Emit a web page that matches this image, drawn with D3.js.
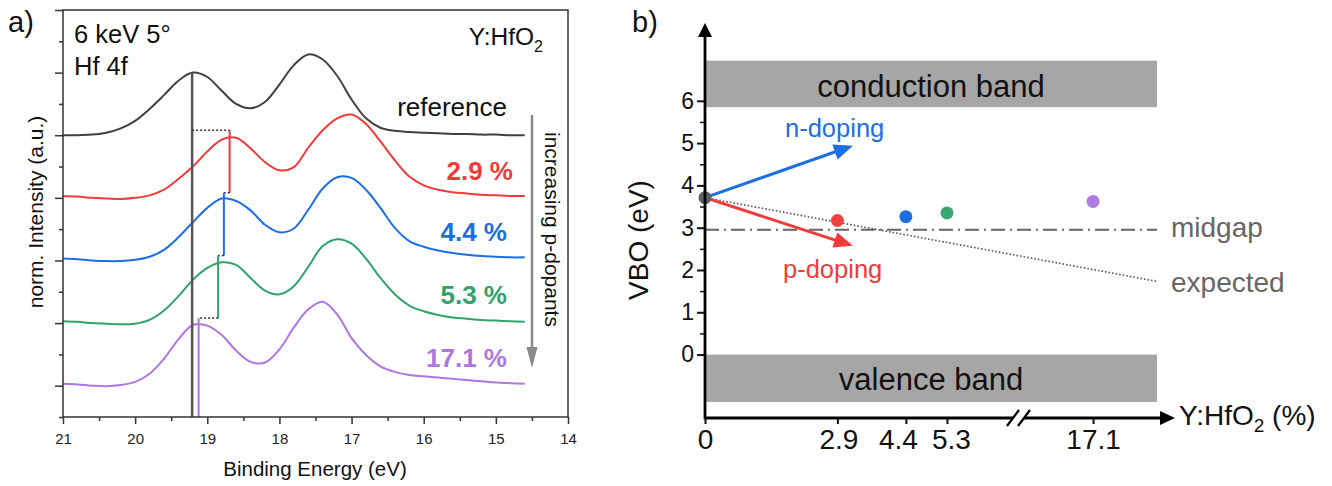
<!DOCTYPE html>
<html><head><meta charset="utf-8">
<script src="https://cdn.jsdelivr.net/npm/d3@7"></script>
<style>body{margin:0;background:#fff} svg{display:block}</style>
</head><body><svg id="c" width="1332" height="486"></svg>
<script>
// ---------------- DATA: panel a) Hf 4f spectra ----------------
const bindingEnergy = [21.0,20.8,20.6,20.4,20.2,20.0,19.8,19.6,19.4,19.2,19.0,18.8,18.6,18.4,18.2,18.0,17.8,17.6,17.4,17.2,17.0,16.8,16.6,16.4,16.2,16.0,15.8,15.6,15.4,15.2,15.0,14.8,14.6];
const seriesNames = ["reference","2.9 %","4.4 %","5.3 %","17.1 %"];
const seriesColors = ["#404040","#f03b3b","#1c6fe3","#2fa36a","#ad77e2"];
const specReference = [0.00,0.00,0.01,0.04,0.11,0.23,0.42,0.64,0.87,1.00,0.93,0.71,0.50,0.43,0.53,0.81,1.12,1.29,1.21,0.95,0.57,0.27,0.12,0.07,0.05,0.04,0.03,0.02,0.02,0.01,0.01,0.00,0.00];
const spec29 = [0.03,0.02,0.00,-0.01,-0.02,0.00,0.04,0.13,0.30,0.50,0.74,0.93,0.96,0.79,0.57,0.44,0.49,0.80,1.08,1.27,1.33,1.18,0.90,0.60,0.34,0.20,0.13,0.09,0.07,0.05,0.04,0.03,0.03];
const spec44 = [0.03,0.02,0.00,-0.01,-0.01,0.01,0.06,0.17,0.37,0.61,0.84,0.99,0.95,0.80,0.57,0.45,0.51,0.81,1.15,1.33,1.32,1.13,0.84,0.52,0.31,0.22,0.16,0.12,0.09,0.07,0.06,0.05,0.05];
const spec53 = [0.03,0.02,0.00,-0.01,-0.02,-0.01,0.05,0.20,0.43,0.69,0.88,0.97,0.93,0.72,0.52,0.46,0.59,0.90,1.23,1.34,1.27,1.03,0.72,0.46,0.28,0.19,0.13,0.09,0.07,0.05,0.04,0.03,0.02];
const spec171 = [0.03,0.02,0.00,-0.01,0.01,0.06,0.19,0.43,0.74,0.97,0.96,0.81,0.56,0.38,0.37,0.58,0.93,1.22,1.34,1.14,0.76,0.49,0.31,0.22,0.17,0.15,0.13,0.11,0.09,0.07,0.05,0.04,0.03];
const seriesOffsets = [4,3,2,1,0];
const peakPositions = [19.21,18.69,18.77,18.85,19.12];
const peakHeightRef = 1.0;
const connectorLevel = 0.08;
const energyTicks = [21,20,19,18,17,16,15,14];
const energyMinorTicks = [20.5,19.5,18.5,17.5,16.5,15.5,14.5];
const intensityTicks = [0,1,2,3,4,5,6];
const intensityMinorTicks = [-0.5,0.5,1.5,2.5,3.5,4.5,5.5];

// ---------------- DATA: panel b) VBO ----------------
const dopingLevels = [0,2.9,4.4,5.3,17.1];
const dopingTickLabels = ["0","2.9","4.4","5.3","17.1"];
const vboValues = [3.71,3.17,3.26,3.35,3.62];
const pointColors = ["#606060","#f04040","#1f6fe0","#3aa672","#b07ce0"];
const vboTicks = [0,1,2,3,4,5,6];
const vboMinorTicks = [0.5,1.5,2.5,3.5,4.5,5.5];
const conductionBand = [5.85,6.95];
const valenceBand = [-1.12,0];
const midgapValue = 2.95;
const expectedLine = [[0,3.71],[18.5,1.73]];
const nDopingArrow = [[0,3.71],[3.24,4.94]];
const pDopingArrow = [[0,3.71],[3.24,2.57]];
const xEnd = 18.5;

const FONT = '"Liberation Sans", Arial, Helvetica, sans-serif';
const svg = d3.select("#c");

// ================= PANEL a =================
const xL = d3.scaleLinear().domain([21,14]).range([63,568]);
const yL = d3.scaleLinear().domain([-0.5,6]).range([417,10]);
const gL = svg.append("g");

function styleAxis(g, size){
  g.select(".domain").remove();
  g.attr("font-family", FONT).attr("font-size", size);
  g.selectAll("line").attr("stroke","#333").attr("stroke-width",1.5);
  g.selectAll("text").attr("fill","#222");
}
styleAxis(gL.append("g").attr("transform",`translate(0,${yL(-0.5)})`)
  .call(d3.axisBottom(xL).tickValues(energyTicks).tickSize(7).tickPadding(9).tickFormat(d3.format("d"))),15);
styleAxis(gL.append("g").attr("transform",`translate(0,${yL(-0.5)})`)
  .call(d3.axisBottom(xL).tickValues(energyMinorTicks).tickSize(4).tickFormat("")),15);
styleAxis(gL.append("g").attr("transform",`translate(${xL(21)},0)`)
  .call(d3.axisLeft(yL).tickValues(intensityTicks).tickSize(8).tickFormat("")),15);
styleAxis(gL.append("g").attr("transform",`translate(${xL(21)},0)`)
  .call(d3.axisLeft(yL).tickValues(intensityMinorTicks).tickSize(4).tickFormat("")),15);

const spectra = [specReference,spec29,spec44,spec53,spec171];
const lineGen = d3.line().x(d=>xL(d[0])).y(d=>yL(d[1])).curve(d3.curveCatmullRom.alpha(0.5));
spectra.forEach((s,i)=>{
  const pts = bindingEnergy.map((e,j)=>[e, s[j]+seriesOffsets[i]]);
  gL.append("path").attr("d",lineGen(pts)).attr("fill","none")
    .attr("stroke",seriesColors[i]).attr("stroke-width",2).attr("stroke-linejoin","round");
});

// peak markers
gL.append("line").attr("x1",xL(peakPositions[0])).attr("x2",xL(peakPositions[0]))
  .attr("y1",yL(seriesOffsets[0]+peakHeightRef)).attr("y2",yL(-0.5))
  .attr("stroke","#555").attr("stroke-width",2.5);
for(let i=1;i<peakPositions.length;i++){
  const top = seriesOffsets[i-1]+connectorLevel;
  const bot = i===peakPositions.length-1 ? -0.5 : seriesOffsets[i]+connectorLevel;
  gL.append("line").attr("x1",xL(peakPositions[i-1])).attr("x2",xL(peakPositions[i]))
    .attr("y1",yL(top)).attr("y2",yL(top))
    .attr("stroke","#333").attr("stroke-width",1.5).attr("stroke-dasharray","2,2");
  gL.append("line").attr("x1",xL(peakPositions[i])).attr("x2",xL(peakPositions[i]))
    .attr("y1",yL(top)).attr("y2",yL(bot))
    .attr("stroke",seriesColors[i]).attr("stroke-width",2);
}

// frame
gL.append("rect").attr("x",xL(21)).attr("y",yL(6)).attr("width",xL(14)-xL(21)).attr("height",yL(-0.5)-yL(6))
  .attr("fill","none").attr("stroke","#333").attr("stroke-width",1.5);

function txt(g,x,y,s,size,opts={}){
  const t = g.append("text").attr("x",x).attr("y",y).attr("font-family",FONT).attr("font-size",size)
    .attr("fill",opts.fill||"#111").attr("text-anchor",opts.anchor||"start");
  if(opts.weight) t.attr("font-weight",opts.weight);
  if(opts.rotate!==undefined) t.attr("transform",`rotate(${opts.rotate},${x},${y})`);
  if(s!==null) t.text(s);
  return t;
}
txt(gL,8,32,"a)",29);
txt(gL,74,43,"6 keV 5°",25.5);
txt(gL,74,75,"Hf 4f",25.5);
const yh = txt(gL,543,45,null,24.5,{anchor:"end"});
yh.append("tspan").text("Y:HfO");
yh.append("tspan").text("2").attr("font-size",16).attr("dy",7);
txt(gL,507,116,seriesNames[0],26,{anchor:"end"});
const labelBase = [null,180,241,304,367];
const labelRight = [null,513,507,507,507];
for(let i=1;i<seriesNames.length;i++){
  txt(gL,labelRight[i],labelBase[i],seriesNames[i],26,{anchor:"end",weight:"bold",fill:seriesColors[i]});
}
// increasing arrow
gL.append("line").attr("x1",532).attr("x2",532).attr("y1",115).attr("y2",350).attr("stroke","#8a8a8a").attr("stroke-width",2.5);
gL.append("polygon").attr("points","526.5,347 537.5,347 532,368").attr("fill","#8a8a8a");
txt(gL,545,132,"increasing p-dopants",21,{rotate:90});
// axis titles
txt(gL,315,476,"Binding Energy (eV)",20.5,{anchor:"middle"});
txt(gL,43,212,"norm. Intensity (a.u.)",21,{anchor:"middle",rotate:-90});

// ================= PANEL b =================
const gR = svg.append("g");
const xR = d3.scaleLinear().domain([0,6.9,15.5,xEnd]).range([705,1020,1020,1157]);
const yR = d3.scaleLinear().domain([-1.5,7.84]).range([418,23]);

// bands
[conductionBand,valenceBand].forEach(b=>{
  gR.append("rect").attr("x",xR(0)).attr("width",xR(xEnd)-xR(0))
    .attr("y",yR(b[1])).attr("height",yR(b[0])-yR(b[1])).attr("fill","#a6a6a6");
});
txt(gR,(xR(0)+xR(xEnd))/2,97,"conduction band",31,{anchor:"middle"});
txt(gR,(xR(0)+xR(xEnd))/2,390,"valence band",31,{anchor:"middle"});

// midgap
gR.append("line").attr("x1",xR(0)).attr("x2",xR(xEnd)).attr("y1",yR(midgapValue)).attr("y2",yR(midgapValue))
  .attr("stroke","#666").attr("stroke-width",2).attr("stroke-dasharray","14,5,2,5");
// expected
gR.append("line").attr("x1",xR(expectedLine[0][0])).attr("y1",yR(expectedLine[0][1]))
  .attr("x2",xR(expectedLine[1][0])).attr("y2",yR(expectedLine[1][1]))
  .attr("stroke","#555").attr("stroke-width",1.6).attr("stroke-dasharray","1.6,2");
txt(gR,1171,237,"midgap",28,{fill:"#666"});
txt(gR,1171,292,"expected",28,{fill:"#666"});

// doping arrows
function arrow(a,color){
  const x1=xR(a[0][0]),y1=yR(a[0][1]),x2=xR(a[1][0]),y2=yR(a[1][1]);
  const ang=Math.atan2(y2-y1,x2-x1), L=19, W=8;
  const bx=x2-L*Math.cos(ang), by=y2-L*Math.sin(ang);
  gR.append("line").attr("x1",x1).attr("y1",y1).attr("x2",bx+2*Math.cos(ang)).attr("y2",by+2*Math.sin(ang))
    .attr("stroke",color).attr("stroke-width",3);
  const px=-Math.sin(ang), py=Math.cos(ang);
  gR.append("polygon").attr("points",`${x2},${y2} ${bx+W*px},${by+W*py} ${bx-W*px},${by-W*py}`).attr("fill",color);
}
arrow(nDopingArrow,"#1c6fe3");
arrow(pDopingArrow,"#f03b3b");
txt(gR,785,137,"n-doping",25.5,{fill:"#1c6fe3"});
txt(gR,783,278,"p-doping",25.5,{fill:"#f03b3b"});

// points
dopingLevels.forEach((d,i)=>{
  gR.append("circle").attr("cx",xR(d)).attr("cy",yR(vboValues[i])).attr("r",6.5).attr("fill",pointColors[i]);
});

// axes
const yAx = gR.append("g").attr("transform",`translate(${xR(0)},0)`)
  .call(d3.axisLeft(yR).tickValues(vboTicks).tickSize(8).tickPadding(3).tickFormat(d3.format("d")));
yAx.select(".domain").remove();
yAx.attr("font-family",FONT).attr("font-size",23);
yAx.selectAll("line").attr("stroke","#111").attr("stroke-width",2);
yAx.selectAll("text").attr("fill","#111");
const yAxm = gR.append("g").attr("transform",`translate(${xR(0)},0)`)
  .call(d3.axisLeft(yR).tickValues(vboMinorTicks).tickSize(5).tickFormat(""));
yAxm.select(".domain").remove();
yAxm.selectAll("line").attr("stroke","#111").attr("stroke-width",1.5);

const labelShift = [0,1,-8,4,0];
const xAx = gR.append("g").attr("transform",`translate(0,${yR(-1.5)})`)
  .call(d3.axisBottom(xR).tickValues(dopingLevels).tickSize(6).tickPadding(5).tickFormat((d,i)=>dopingTickLabels[i]));
xAx.select(".domain").remove();
xAx.attr("font-family",FONT).attr("font-size",28);
xAx.selectAll("line").attr("stroke","#111").attr("stroke-width",2);
xAx.selectAll("text").attr("fill","#111").attr("dx",(d,i)=>labelShift[i]);

// axis lines with arrows
gR.append("line").attr("x1",xR(0)).attr("x2",xR(0)).attr("y1",yR(-1.5)+1.3).attr("y2",yR(7.84)+12)
  .attr("stroke","#000").attr("stroke-width",2.8);
gR.append("polygon").attr("points",`${xR(0)-7},${yR(7.84)+14} ${xR(0)+7},${yR(7.84)+14} ${xR(0)},${yR(7.84)}`).attr("fill","#000");
gR.append("line").attr("x1",xR(0)).attr("x2",1163).attr("y1",yR(-1.5)).attr("y2",yR(-1.5))
  .attr("stroke","#000").attr("stroke-width",2.8);
gR.append("polygon").attr("points",`1160,${yR(-1.5)-7} 1160,${yR(-1.5)+7} 1175,${yR(-1.5)}`).attr("fill","#000");
// axis break
gR.append("rect").attr("x",1013).attr("y",yR(-1.5)-3).attr("width",11).attr("height",6).attr("fill","#fff");
gR.append("line").attr("x1",1007).attr("y1",yR(-1.5)+8).attr("x2",1019).attr("y2",yR(-1.5)-8).attr("stroke","#000").attr("stroke-width",2.2);
gR.append("line").attr("x1",1018).attr("y1",yR(-1.5)+8).attr("x2",1030).attr("y2",yR(-1.5)-8).attr("stroke","#000").attr("stroke-width",2.2);

// titles
txt(gR,632,32,"b)",29);
txt(gR,648,240,"VBO (eV)",28,{anchor:"middle",rotate:-90});
const xt = txt(gR,1179,425,null,28);
xt.append("tspan").text("Y:HfO");
xt.append("tspan").text("2").attr("font-size",19).attr("dy",7);
xt.append("tspan").text(" (%)").attr("dy",-7);
</script></body></html>
